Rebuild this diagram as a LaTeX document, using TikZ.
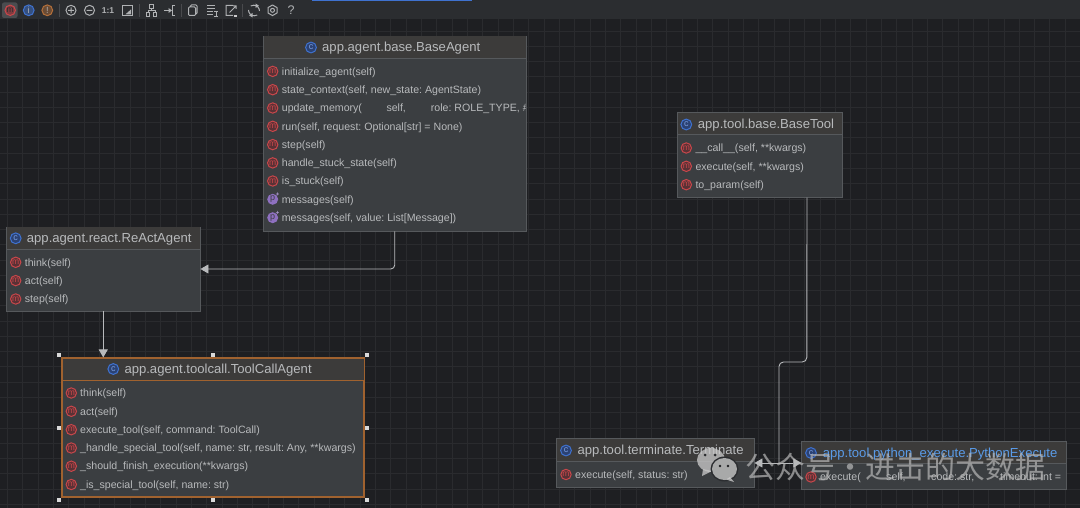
\documentclass[tikz,border=0pt]{standalone}
\usepackage{fontspec}
\setmainfont{Liberation Sans}
\newfontfamily\cjkwm{Noto Sans CJK SC}
\usetikzlibrary{arrows.meta}
\definecolor{bgc}{HTML}{1E1F22}
\definecolor{gridc}{HTML}{2A2B2E}
\definecolor{barc}{HTML}{2B2D30}
\definecolor{boxc}{HTML}{3B3E41}
\definecolor{headc}{HTML}{3C3B3A}
\definecolor{edgec}{HTML}{56595C}
\definecolor{txtc}{HTML}{B8BABC}
\definecolor{linec}{HTML}{B8BABC}
\definecolor{selc}{HTML}{A0622F}
\definecolor{mred}{HTML}{C9474B}
\definecolor{mredf}{HTML}{5A3135}
\definecolor{cblue}{HTML}{3F72D0}
\definecolor{cbluef}{HTML}{2B4274}
\definecolor{ppur}{HTML}{8E70C0}
\definecolor{linkc}{HTML}{5A9BE8}
\definecolor{iconc}{HTML}{B0B2B4}
\definecolor{orc}{HTML}{B5703A}
\tikzset{
  classbox/.style={draw=edgec,fill=boxc,line width=0.9pt,inner sep=0pt},
  selbox/.style={classbox,draw=selc,line width=1.1pt},
  titletxt/.style={anchor=mid west,inner sep=0pt,text=txtc,yshift=-1.8pt,font=\fontsize{13.1}{15}\selectfont},
  rowtxt/.style={anchor=mid west,inner sep=0pt,text=txtc,yshift=-1.1pt,font=\fontsize{10.6}{12}\selectfont},
  micon/.style={circle,draw=mred,fill=mredf,line width=1pt,minimum size=10.4pt,inner sep=0pt,text=mred,font=\fontsize{8.5}{8}\selectfont},
  cicon/.style={circle,draw=cblue,fill=cbluef,line width=1pt,minimum size=10.8pt,inner sep=0pt,text=cblue!70!white,font=\fontsize{9}{8}\selectfont},
  picon/.style={circle,fill=ppur,minimum size=11pt,inner sep=0pt,text=boxc,font=\fontsize{9}{8}\selectfont},
  conn/.style={draw=linec,line width=0.9pt},
  tip/.style={-{Triangle[length=8pt,width=9pt,fill=linec]}},
  tool/.style={draw=iconc,line width=1pt},
  wm/.style={opacity=0.78},
}
\newcount\rowno
\newcommand{\classrect}[7]{% name x1 y1 x2 y2 headery style
  \pgfmathsetmacro{\cw}{#4-#2}\pgfmathsetmacro{\ch}{#5-#3}
  \pgfmathsetmacro{\cx}{(#2+#4)/2}\pgfmathsetmacro{\cy}{(#3+#5)/2}
  \node[#7,minimum width=\cw pt,minimum height=\ch pt] (#1) at (\cx,\cy) {};
  \fill[headc] (#2+0.5,#3+0.5) rectangle (#4-0.5,#6);
}
\newcommand{\ctitle}[6]{% name iconx textx y text colour
  \node[cicon] (#1icon) at (#2,#4) {c};
  \node[titletxt,text=#6] (#1title) at (#3,#4) {#5};
}
\newcommand{\mrow}[4]{% iconx textx y text
  \global\advance\rowno by 1
  \node[micon] (mi\the\rowno) at (#1,#3) {m};
  \node[rowtxt] (mt\the\rowno) at (#2,#3) {#4};
}
\newcommand{\prow}[4]{%
  \global\advance\rowno by 1
  \node[picon] (mi\the\rowno) at (#1,#3) {p};
  \fill[ppur!70!white] (#1+3.2,#3-5.6) rectangle (#1+6.2,#3-5) (#1+4.4,#3-6.8) rectangle (#1+5,#3-3.8);
  \node[rowtxt] (mt\the\rowno) at (#2,#3) {#4};
}
\begin{document}
\frenchspacing
\begin{tikzpicture}[x=1pt,y=-1pt]
\useasboundingbox (0,0) rectangle (1080,508);
\fill[bgc] (0,0) rectangle (1080,508);
% grid
\foreach \i in {0,...,70} {\draw[gridc,line width=0.9pt] ({7.5+15.33*\i},19) -- ({7.5+15.33*\i},508);}
\foreach \i in {0,...,32} {\draw[gridc,line width=0.9pt] (0,{31+15.27*\i}) -- (1080,{31+15.27*\i});}
% toolbar
\fill[barc] (0,0) rectangle (1080,19.5);
\fill[cblue] (312,0) rectangle (472,1.2);
\fill[white!15!barc,rounded corners=2pt] (2,2.5) rectangle (17.5,18);
\node[micon,fill=mred!55!barc,text=barc] (tbm) at (10.2,10.3) {m};
\node[cicon,fill=cblue!50!barc,text=iconc] (tbi) at (28.7,10.3) {i};
\node[cicon,draw=orc,fill=orc!45!barc,text=iconc] (tbe) at (47.3,10.3) {!};
\foreach \x in {59,139,181,242} {\draw[white!14!barc,line width=0.8pt] (\x,4) -- (\x,17);}
\draw[tool] (71,10.3) circle (5) (68.2,10.3) -- (73.8,10.3) (71,7.5) -- (71,13.1);
\draw[tool] (89.5,10.3) circle (5) (86.7,10.3) -- (92.3,10.3);
\node[inner sep=0pt,text=iconc,font=\fontsize{8.5}{8}\selectfont\bfseries] (tbone) at (108,10.5) {1:1};
\draw[tool] (122,5.5) rectangle (132,15.5); \fill[iconc] (127,13) -- (131,9.5) -- (131,14.5) -- (125.5,14.5) -- cycle;
% hierarchy icon
\draw[tool] (149,5) rectangle (153,9) (146,13) rectangle (149.5,16.5) (153,13) rectangle (156.5,16.5) (151,9) -- (151,11) (148,13) -- (148,11) -- (155,11) -- (155,13);
% route icon
\draw[tool] (164,10.5) -- (171,10.5) (174.5,5.5) -- (172.5,5.5) -- (172.5,15.5) -- (174.5,15.5);
\fill[iconc] (172,10.5) -- (168.5,8) -- (168.5,13) -- cycle;
% copy icon
\draw[tool,rounded corners=1pt] (188.5,7) rectangle (195.5,15.5) (190.5,7) -- (190.5,5) -- (197,5) -- (197,14) -- (195.5,14);
% list icon
\draw[tool] (207,5.5) -- (215,5.5) (207,8.5) -- (215,8.5) (207,11.5) -- (213,11.5) (207,14.5) -- (213,14.5) (214,12) -- (218,12) (216,12) -- (216,17) (214,17) -- (218,17);
% export icon
\draw[tool] (233,5.5) -- (226,5.5) -- (226,15.5) -- (233,15.5) (229.5,12.5) -- (236,6) (233,5.8) -- (236,5.8) -- (236,8.8);
\fill[white!75!barc] (234,15) rectangle (236.5,17.5);
% refresh icon
\draw[tool] (248.5,10) arc (180:60:5.8) (259.5,11) arc (0:-120:5.8);
\fill[iconc] (255.5,3.5) -- (259,5.8) -- (255.5,8) -- cycle (252.5,13) -- (249,15.2) -- (252.5,17.5) -- cycle;
% gear icon
\draw[tool] (272.5,10.3) circle (2);
\draw[tool,line join=round] (272.5,5) -- (277,7.6) -- (277,13) -- (272.5,15.6) -- (268,13) -- (268,7.6) -- cycle;
\node[inner sep=0pt,text=iconc,font=\fontsize{12.5}{12}\selectfont] (tbq) at (291,10.3) {?};

% class boxes
\classrect{baseagent}{263.5}{36}{526}{231}{58}{classbox}
\draw[edgec,line width=0.9pt] (263.5,58) -- (526,58);
\classrect{react}{6.5}{227}{200}{311}{249}{classbox}
\draw[edgec,line width=0.9pt] (6.5,249) -- (200,249);
\classrect{toolcall}{62}{358}{364}{497}{380}{selbox}
\draw[selc,line width=1pt] (62,380) -- (364,380);
\classrect{basetool}{677.3}{112.7}{842.7}{197.3}{134.3}{classbox}
\draw[edgec,line width=0.9pt] (677.3,134.3) -- (842.7,134.3);
\classrect{terminate}{556.8}{438.6}{754}{487.3}{461}{classbox}
\draw[edgec,line width=0.9pt] (556.8,461) -- (754,461);
\classrect{python}{801.7}{441}{1066.5}{489.7}{463.3}{classbox}
\draw[edgec,line width=0.9pt] (801.7,463.3) -- (1066.5,463.3);

% connectors
\coordinate (toolout) at ([xshift=47pt]basetool.south);
\coordinate (bendr) at (806.8,362);
\coordinate (bendl) at (779,362);
\coordinate (fork) at (779,463);
\draw[conn,tip,rounded corners=4pt] (baseagent.south) |- (react.east);
\draw[conn,tip] (react.south) -- (react.south |- toolcall.north);
\draw[conn,rounded corners=4.5pt] (toolout) -- (bendr) -- (bendl) -- (fork);
\draw[conn,tip] (fork) -- (fork -| terminate.east);
\draw[conn,tip] (fork) -- (fork -| python.west);

% BaseAgent
\ctitle{ba}{311}{322}{47.5}{app.agent.base.BaseAgent}{txtc}
\mrow{272.7}{281.7}{71.4}{initialize\_agent(self)}
\mrow{272.7}{281.7}{89.7}{state\_context(self, new\_state: AgentState)}
\begin{scope}
\clip (263,90) rectangle (525.5,125);
\mrow{272.7}{281.7}{108}{update\_memory(}
\global\advance\rowno by 1
\node[rowtxt] (mt\the\rowno) at (386.3,108) {self,};
\global\advance\rowno by 1
\node[rowtxt] (mt\the\rowno) at (430.7,108) {role: ROLE\_TYPE, \# t};
\end{scope}
\mrow{272.7}{281.7}{126.3}{run(self, request: Optional[str] = None)}
\mrow{272.7}{281.7}{144.6}{step(self)}
\mrow{272.7}{281.7}{162.9}{handle\_stuck\_state(self)}
\mrow{272.7}{281.7}{181}{is\_stuck(self)}
\prow{272.7}{281.7}{199.3}{messages(self)}
\prow{272.7}{281.7}{217.7}{messages(self, value: List[Message])}

% ReActAgent
\ctitle{re}{15.7}{26.7}{238.3}{app.agent.react.ReActAgent}{txtc}
\mrow{15.7}{24.7}{262.3}{think(self)}
\mrow{15.7}{24.7}{280.6}{act(self)}
\mrow{15.7}{24.7}{299}{step(self)}

% ToolCallAgent
\ctitle{tc}{113.3}{124.3}{369}{app.agent.toolcall.ToolCallAgent}{txtc}
\mrow{71.3}{80}{393}{think(self)}
\mrow{71.3}{80}{411.3}{act(self)}
\mrow{71.3}{80}{429.7}{execute\_tool(self, command: ToolCall)}
\mrow{71.3}{80}{448}{\_handle\_special\_tool(self, name: str, result: Any, **kwargs)}
\mrow{71.3}{80}{466.2}{\_should\_finish\_execution(**kwargs)}
\mrow{71.3}{80}{484.5}{\_is\_special\_tool(self, name: str)}
\foreach \p in {(59,355),(213,355),(367,355),(59,427.5),(367,427.5),(59,500),(213,500),(367,500)} {
  \fill[white!85!black,shift={\p}] (-2,-2) rectangle (2,2);
}

% BaseTool
\ctitle{bt}{686.3}{697.7}{124.5}{app.tool.base.BaseTool}{txtc}
\mrow{686.3}{695.3}{148}{\_\_call\_\_(self, **kwargs)}
\mrow{686.3}{695.3}{166.3}{execute(self, **kwargs)}
\mrow{686.3}{695.3}{184.7}{to\_param(self)}

% Terminate
\ctitle{te}{566}{577.4}{450.5}{app.tool.terminate.Terminate}{txtc}
\mrow{566}{575}{474.5}{execute(self, status: str)}

% PythonExecute
\ctitle{py}{811}{822.6}{453}{app.tool.python\_execute.PythonExecute}{linkc}
\mrow{811}{820}{477}{execute(}
\global\advance\rowno by 1
\node[rowtxt] (mt\the\rowno) at (886,477) {self,};
\global\advance\rowno by 1
\node[rowtxt] (mt\the\rowno) at (931,477) {code: str,};
\global\advance\rowno by 1
\node[rowtxt] (mt\the\rowno) at (1000,477) {timeout: int =};

% watermark
\begin{scope}[wm]
\fill[white!78!black] (711,460) ellipse (14 and 12);
\fill[white!78!black] (703,469) -- (702,476) -- (712,471) -- cycle;
\end{scope}
\fill[bgc!55!boxc] (724.5,469) ellipse (14 and 12.5);
\begin{scope}[wm]
\fill[white!80!black] (724.5,469) ellipse (12.5 and 11);
\fill[white!80!black] (730,477) -- (734,482) -- (726,479.5) -- cycle;
\end{scope}
\fill[bgc] (720,466) circle (1.4) (728,466) circle (1.4);
\fill[bgc!60!boxc] (705,455) circle (1.5) (715,455) circle (1.5);
\node[wm,opacity=0.7,anchor=mid west,inner sep=0pt,text=white!72!black,font=\cjkwm\fontsize{30}{32}\selectfont] (watermark) at (745.5,475.5) {公众号・进击的大数据};
\end{tikzpicture}
\end{document}
